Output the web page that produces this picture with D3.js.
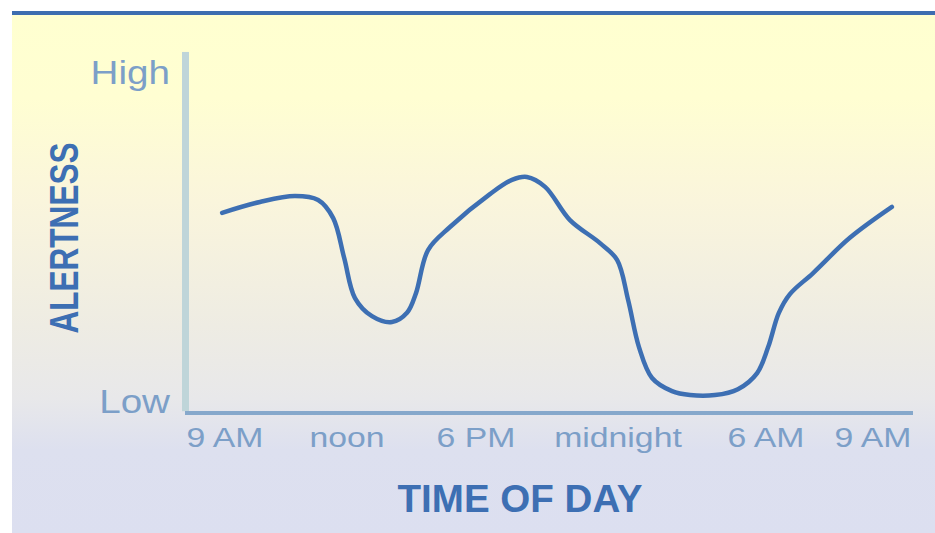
<!DOCTYPE html>
<html>
<head>
<meta charset="utf-8">
<script src="https://cdn.jsdelivr.net/npm/d3@7/dist/d3.min.js"></script>
<style>
  html, body { margin: 0; padding: 0; background: #ffffff; }
  svg { display: block; }
  text { font-family: "Liberation Sans", Arial, sans-serif; }
</style>
</head>
<body>
<svg id="chart" width="935" height="533"></svg>
<script>
// ---- data ----
const tickHours = [9, 12, 18, 24, 30, 33];
const tickLabels = ["9 AM", "noon", "6 PM", "midnight", "6 AM", "9 AM"];
const yTickValues = [0, 10];
const yTickLabels = ["Low", "High"];
// alertness curve: hour of day (continuing past midnight) and alertness level (0 = Low, 10 = High)
const hours = [8.93, 9.86, 10.72, 11.29, 11.66, 11.93, 12.37, 13.16, 14.09, 14.79, 15.21, 15.77, 16.79, 18.59, 19.52, 20.15, 20.92, 21.97, 23.24, 23.96, 24.41, 24.85, 25.38, 26.19, 26.92, 27.93, 28.86, 29.64, 30.06, 30.36, 30.67, 31.32, 32.35, 33.53];
const alertness = [5.78, 6.11, 6.29, 6.17, 5.62, 4.41, 3.19, 2.64, 2.46, 2.74, 3.34, 4.65, 5.35, 6.35, 6.78, 6.87, 6.57, 5.56, 4.86, 4.35, 3.13, 1.70, 0.76, 0.36, 0.24, 0.24, 0.42, 0.91, 1.70, 2.74, 3.31, 3.95, 5.02, 5.96];
const xTitle = "TIME OF DAY";
const yTitle = "ALERTNESS";

// ---- layout ----
const W = 935, H = 533;
const svg = d3.select("#chart");
const blue = "#3d6fb3";
const lightBlue = "#7c9fc8";

// tick positions along the axis as fractions of the plot width (schematic, non-uniform axis)
const tickFrac = [0, 0.1883, 0.3873, 0.6065, 0.8349, 1];
const x0 = 225, x1 = 873;
const x = d3.scaleLinear()
  .domain(tickHours)
  .range(tickFrac.map(f => x0 + f * (x1 - x0)));
const y = d3.scaleLinear().domain([0, 10]).range([403, 74]);

// background
const defs = svg.append("defs");
const grad = defs.append("linearGradient").attr("id", "bg")
  .attr("x1", 0).attr("y1", 0).attr("x2", 0).attr("y2", 1);
[[0, "#ffffd0"], [0.16, "#fffed2"], [0.36, "#faf5dc"], [0.6, "#eeece3"], [0.74, "#e8e8ea"], [0.84, "#dde0ef"], [1, "#dcdff0"]]
  .forEach(([o, c]) => grad.append("stop").attr("offset", o).attr("stop-color", c));
svg.append("rect").attr("x", 12).attr("y", 15).attr("width", W - 12).attr("height", H - 15)
  .attr("fill", "url(#bg)");
// top rule
svg.append("rect").attr("x", 12).attr("y", 11).attr("width", W - 12).attr("height", 4)
  .attr("fill", "#3d6db0");

// y axis line
svg.append("rect").attr("x", 182).attr("y", y(10.67)).attr("width", 7)
  .attr("height", y(-0.25) - y(10.67)).attr("fill", "#bfd5d9");
// x axis line
svg.append("rect").attr("x", 185).attr("y", 411).attr("width", 913 - 185).attr("height", 4)
  .attr("fill", "#86a8cb");

// x tick labels
const xt = svg.append("g").selectAll("text").data(tickHours).join("text")
  .attr("x", d => x(d)).attr("y", 447)
  .attr("text-anchor", "middle")
  .attr("font-size", 27)
  .attr("fill", lightBlue)
  .text((d, i) => tickLabels[i]);
xt.each(function () {
  const w = this.getComputedTextLength();
  d3.select(this).attr("textLength", w * 1.25).attr("lengthAdjust", "spacingAndGlyphs");
});

// y tick labels
const yt = svg.append("g").selectAll("text").data(yTickValues).join("text")
  .attr("x", 170).attr("y", d => y(d) + 10)
  .attr("text-anchor", "end")
  .attr("font-size", 33)
  .attr("fill", lightBlue)
  .text((d, i) => yTickLabels[i]);
yt.each(function () {
  const w = this.getComputedTextLength();
  d3.select(this).attr("textLength", w * 1.17).attr("lengthAdjust", "spacingAndGlyphs");
});

// axis titles
svg.append("text").attr("x", 520).attr("y", 512)
  .attr("text-anchor", "middle").attr("font-size", 38).attr("font-weight", "bold")
  .attr("fill", blue).attr("textLength", 245).attr("lengthAdjust", "spacingAndGlyphs")
  .text(xTitle);
svg.append("text").attr("transform", "translate(78,238) rotate(-90)")
  .attr("text-anchor", "middle").attr("font-size", 41).attr("font-weight", "bold")
  .attr("fill", blue).attr("textLength", 191).attr("lengthAdjust", "spacingAndGlyphs")
  .text(yTitle);

// curve
const pts = hours.map((h, i) => [h, alertness[i]]);
const line = d3.line().x(d => x(d[0])).y(d => y(d[1])).curve(d3.curveCatmullRom.alpha(0.5));
svg.append("path").datum(pts).attr("d", line)
  .attr("fill", "none").attr("stroke", blue).attr("stroke-width", 4.5)
  .attr("stroke-linecap", "round").attr("stroke-linejoin", "round");
</script>
</body>
</html>
